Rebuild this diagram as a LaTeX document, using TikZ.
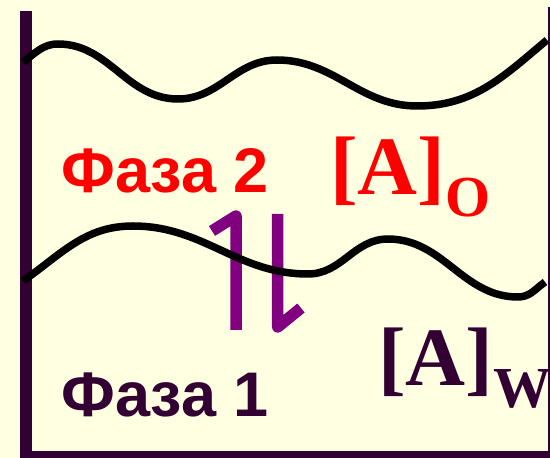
\documentclass[tikz,border=0pt]{standalone}
\usepackage{fontspec}
\newfontfamily\phasefont{Liberation Sans}
\newfontfamily\concfont{Liberation Serif}
\definecolor{bg}{RGB}{255,255,225}
\definecolor{dkpurple}{RGB}{51,0,51}
\definecolor{arrowpurple}{RGB}{128,0,128}
\tikzset{
  wave/.style={draw=black, line width=7.5pt},
  eqarrow/.style={draw=arrowpurple, line width=11.5pt, line join=round},
  border/.style={fill=dkpurple, draw=none},
  phaselabel/.style={anchor=base west, inner sep=0pt, font=\phasefont\bfseries\fontsize{63}{63}\selectfont},
  conclabel/.style={anchor=base west, inner sep=0pt, font=\concfont\bfseries\fontsize{83}{83}\selectfont}
}
\begin{document}
\begin{tikzpicture}[x=1pt,y=1pt]
\useasboundingbox[fill=bg] (0,0) rectangle (550,458);
% borders
\path[border] (20,0) rectangle (32,447);
\path[border] (20,0) rectangle (550,7);
\path[border] (547.5,6) rectangle (549.5,451);
% equilibrium half-arrows
\draw[eqarrow] (236,128) -- (236,242) -- (212,227);
\draw[eqarrow] (277.7,244) -- (277.7,131) -- (301,150);
% interfaces
\draw[wave] (23,396) to[out=35,in=180] (58,414) to[out=0,in=180] (178,359)
  to[out=0,in=180] (277,398) to[out=0,in=180] (417,352) to[out=0,in=220] (547,418);
\draw[wave] (23,177) to[out=35,in=180] (133,232) to[out=0,in=180] (308,184)
  to[out=0,in=180] (388,219) to[out=0,in=180] (518,161) to[out=0,in=215] (545,176);
% labels
\node[phaselabel, text=red] (phase2) at (61,265) {Фаза 2};
\node[phaselabel, text=dkpurple] (phase1) at (61,41) {Фаза 1};
\node[conclabel, text=red] (conco) at (330,263) {[A]\raisebox{-22pt}{\fontsize{58}{58}\selectfont O}};
\node[conclabel, text=dkpurple] (concw) at (378,72) {[A]\raisebox{-22pt}{\fontsize{58}{58}\selectfont W}};
\end{tikzpicture}
\end{document}
